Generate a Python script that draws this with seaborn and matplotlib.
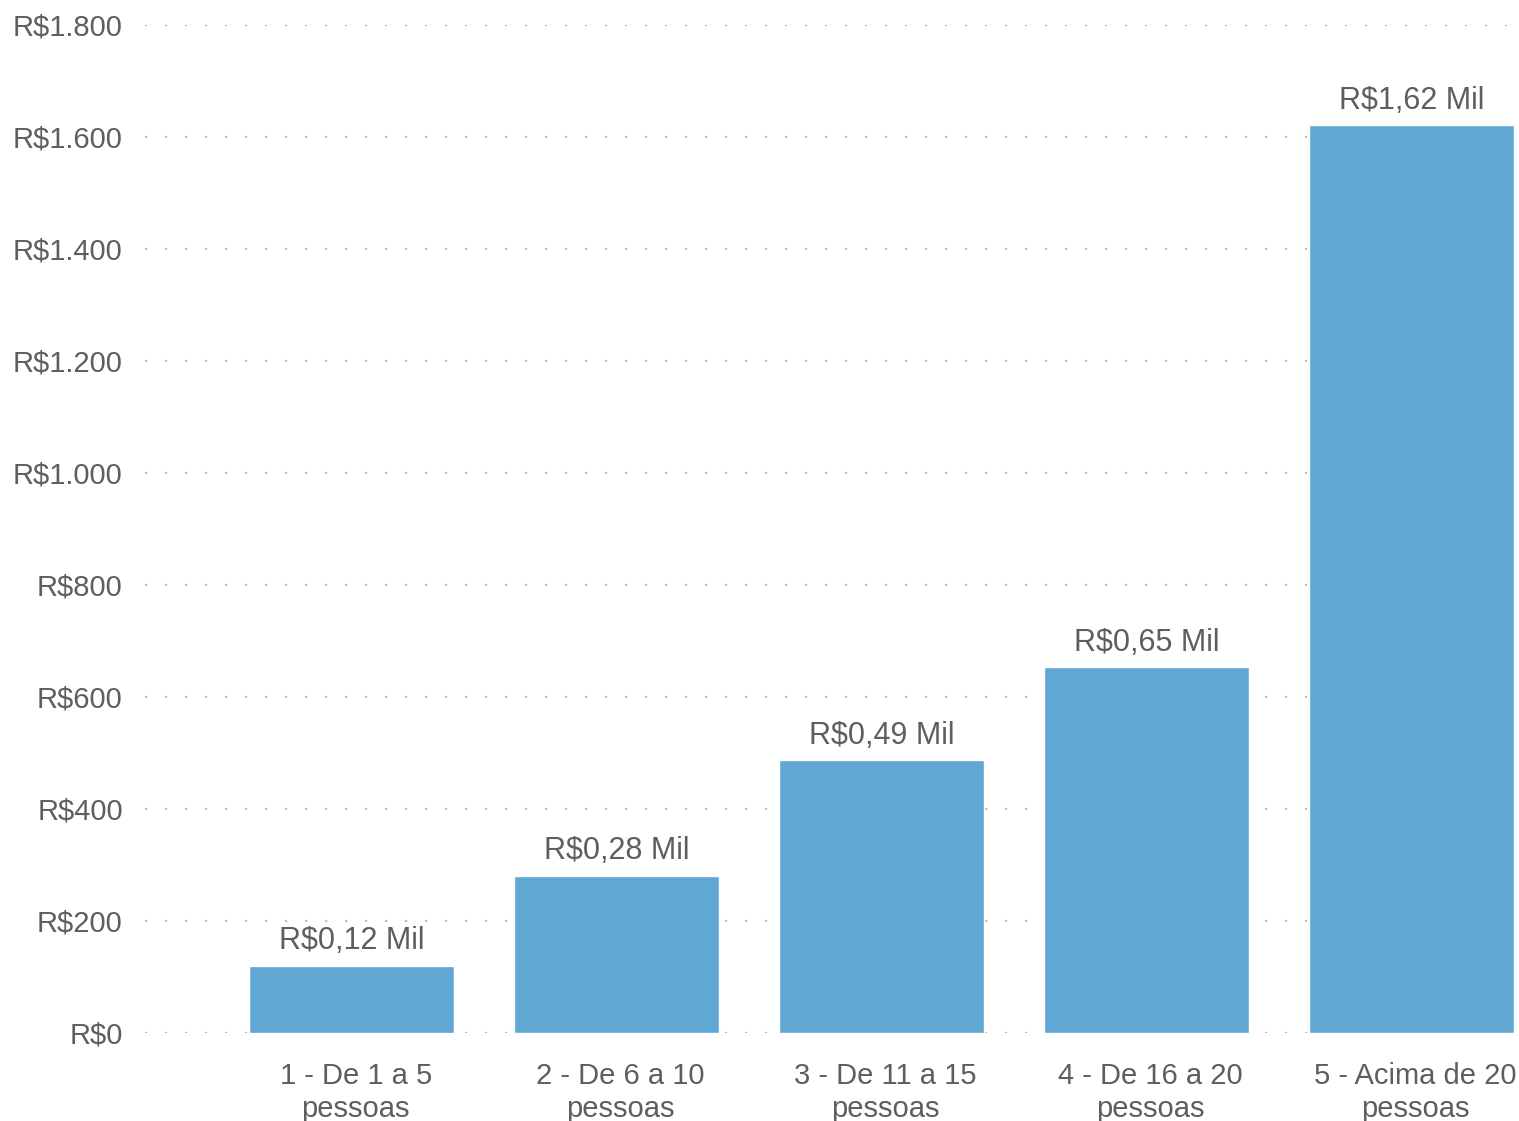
import pandas as pd
import seaborn as sns
import matplotlib.pyplot as plt
import matplotlib.transforms as mtransforms
from matplotlib.ticker import FuncFormatter

# dados
categorias = ["1 - De 1 a 5\npessoas", "2 - De 6 a 10\npessoas", "3 - De 11 a 15\npessoas",
              "4 - De 16 a 20\npessoas", "5 - Acima de 20\npessoas"]
valores = [120, 280, 487, 653, 1621]
yticks = [0, 200, 400, 600, 800, 1000, 1200, 1400, 1600, 1800]

cor_barra = "#5FA8D3"
cor_texto = "#605E5C"

sns.set_theme(style="white")
plt.rcParams['font.family'] = ['Liberation Sans', 'DejaVu Sans']

df = pd.DataFrame({"categoria": categorias, "valor": valores})

fig = plt.figure(figsize=(15.19, 11.21), dpi=100)
ax = fig.add_axes([145 / 1519, 1 - 1033 / 1121, (1514 - 145) / 1519, (1033 - 25) / 1121])

sns.barplot(data=df, x="categoria", y="valor", color=cor_barra, saturation=1,
            width=0.774, ax=ax, zorder=3)

ax.set_xlim(-0.78, 4.387)
ax.set_ylim(0, 1800)
ax.set_yticks(yticks)
ax.yaxis.set_major_formatter(FuncFormatter(lambda v, p: "R$" + f"{int(v):,}".replace(",", ".")))
ax.grid(axis="y", linestyle=(0, (1, 8)), color="#BDBDBD", linewidth=1.6, zorder=0)
ax.set_axisbelow(True)
for s in ax.spines.values():
    s.set_visible(False)

ax.set_xlabel("")
ax.set_ylabel("")
ax.tick_params(axis="y", length=0, pad=16, labelsize=21, labelcolor=cor_texto)
ax.tick_params(axis="x", length=0, pad=21, labelsize=21, labelcolor=cor_texto)
# rótulos do eixo x levemente deslocados para a direita
desloc = mtransforms.ScaledTranslation(4 / 100, 0, fig.dpi_scale_trans)
for lbl in ax.get_xticklabels():
    lbl.set_linespacing(1.2)
    lbl.set_transform(lbl.get_transform() + desloc)

rotulos = [("R$" + f"{v / 1000:.2f}" + " Mil").replace(".", ",") for v in valores]
ax.bar_label(ax.containers[0], labels=rotulos, padding=7, fontsize=22, color=cor_texto)

fig.savefig("out.png", dpi=100)
